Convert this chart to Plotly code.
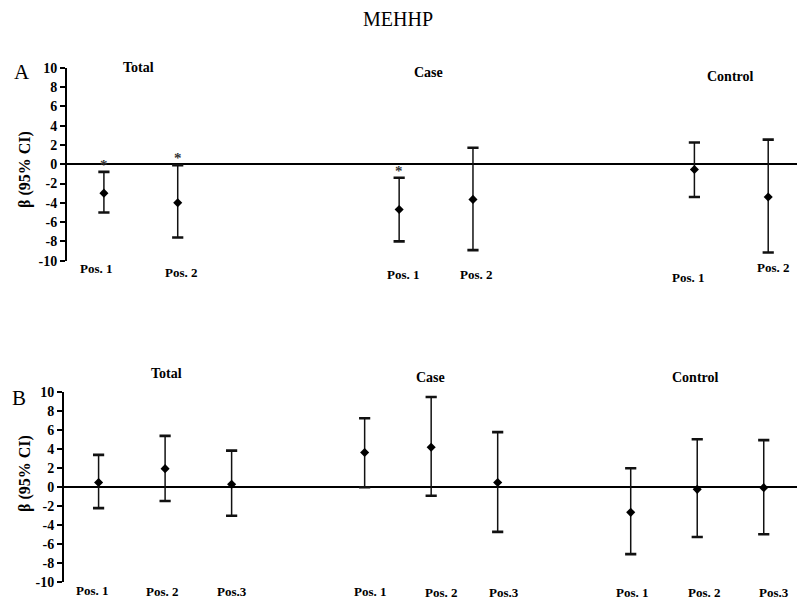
import plotly.graph_objects as go

# ---------------- data ----------------
groups = ["Total", "Case", "Control"]

# Panel A (two positions per group)
A_pos_labels = ["Pos. 1", "Pos. 2"]
A_beta  = [-3.0, -4.0, -4.7, -3.65, -0.55, -3.4]
A_upper = [-0.8, -0.1, -1.4, 1.7, 2.25, 2.55]
A_lower = [-5.0, -7.6, -8.0, -8.9, -3.4, -9.15]
A_signif = [True, True, True, False, False, False]

# Panel B (three positions per group)
B_pos_labels = ["Pos. 1", "Pos. 2", "Pos.3"]
B_beta  = [0.45, 1.9, 0.25, 3.6, 4.15, 0.45, -2.7, -0.28, -0.1]
B_upper = [3.35, 5.35, 3.8, 7.2, 9.45, 5.75, 1.95, 5.0, 4.9]
B_lower = [-2.25, -1.5, -3.05, -0.05, -0.95, -4.75, -7.1, -5.3, -5.0]

y_ticks = list(range(-10, 11, 2))

FONT = "Liberation Serif"
W, H = 797, 600


def px_x(p):
    return p / W


def px_y(p):
    return 1 - p / H


def positions(n_per_group):
    xs = []
    for g in range(len(groups)):
        for p in range(n_per_group):
            xs.append(g * 4 + p + 1)
    return xs


fig = go.Figure()


def add_panel(xs, beta, upper, lower, xaxis, yaxis):
    # whiskers
    fig.add_trace(go.Scatter(
        x=xs, y=beta, mode="markers",
        marker=dict(symbol="diamond", size=7, color="black"),
        error_y=dict(type="data", symmetric=False,
                     array=[u - b for u, b in zip(upper, beta)],
                     arrayminus=[b - l for l, b in zip(lower, beta)],
                     color="#111111", thickness=1.5, width=0),
        xaxis=xaxis, yaxis=yaxis, showlegend=False, hoverinfo="skip"))
    # thick caps at CI ends
    fig.add_trace(go.Scatter(
        x=xs + xs, y=upper + lower, mode="markers",
        marker=dict(symbol="line-ew", size=8, line=dict(color="#111111", width=2.6)),
        xaxis=xaxis, yaxis=yaxis, showlegend=False, hoverinfo="skip"))


A_x = positions(len(A_pos_labels))
B_x = positions(len(B_pos_labels))
add_panel(A_x, A_beta, A_upper, A_lower, "x", "y")
add_panel(B_x, B_beta, B_upper, B_lower, "x2", "y2")

annotations = []


def ann(**kw):
    base = dict(showarrow=False, xanchor="center", yanchor="middle")
    base.update(kw)
    annotations.append(base)


# title
ann(text="MEHHP", x=px_x(398), y=px_y(19), xref="paper", yref="paper",
    font=dict(family=FONT, size=20, color="black"))
# panel letters
ann(text="A", x=px_x(22), y=px_y(72), xref="paper", yref="paper",
    font=dict(family=FONT, size=21, color="black"))
ann(text="B", x=px_x(19), y=px_y(398), xref="paper", yref="paper",
    font=dict(family=FONT, size=21, color="black"))
# y-axis titles
for yc in (170, 474):
    ann(text="<b>β (95% CI)</b>", x=px_x(25), y=px_y(yc), xref="paper", yref="paper",
        textangle=-90, font=dict(family=FONT, size=16, color="black"))

# group titles
A_title_px = [(138, 68), (429, 72), (730, 76)]
B_title_px = [(166, 373), (430, 377), (695, 377)]
for g, (xx, yy) in zip(groups, A_title_px):
    ann(text=f"<b>{g}</b>", x=px_x(xx), y=px_y(yy), xref="paper", yref="paper",
        font=dict(family=FONT, size=14, color="black"))
for g, (xx, yy) in zip(groups, B_title_px):
    ann(text=f"<b>{g}</b>", x=px_x(xx), y=px_y(yy), xref="paper", yref="paper",
        font=dict(family=FONT, size=14, color="black"))

# position labels (with small hand-placed offsets as in the original)
A_lab_dx = [-7, 4, 4, 4, -6, 5]
A_lab_y = [269, 272, 274, 275, 277.5, 267.5]
B_lab_dx = [-6, -3, 0, 6, 10, 6, 2, 7, 10]
B_lab_y = [590.5, 591, 591.5, 591.2, 592, 592, 592, 592.3, 592]

for i, xv in enumerate(A_x):
    ann(text=f"<b>{A_pos_labels[i % len(A_pos_labels)]}</b>", x=xv, xref="x",
        y=px_y(A_lab_y[i]), yref="paper", xshift=A_lab_dx[i],
        font=dict(family=FONT, size=13, color="black"))
for i, xv in enumerate(B_x):
    ann(text=f"<b>{B_pos_labels[i % len(B_pos_labels)]}</b>", x=xv, xref="x2",
        y=px_y(B_lab_y[i]), yref="paper", xshift=B_lab_dx[i],
        font=dict(family=FONT, size=13, color="black"))

# significance asterisks
for xv, u, s in zip(A_x, A_upper, A_signif):
    if s:
        ann(text="<b>*</b>", x=xv, y=u, xref="x", yref="y", yshift=7,
            font=dict(family=FONT, size=15, color="#333333"))

yaxis_common = dict(range=[-10, 10], tickvals=y_ticks, ticktext=[f"<b>{v}</b>" for v in y_ticks],
                    showgrid=False, showline=True, linecolor="black", linewidth=2,
                    ticks="outside", ticklen=5, tickwidth=2, tickcolor="black",
                    zeroline=True, zerolinecolor="black", zerolinewidth=2,
                    tickfont=dict(family=FONT, size=14, color="black"), automargin=False)
xaxis_common = dict(showgrid=False, showline=False, zeroline=False, showticklabels=False,
                    ticks="", automargin=False)

fig.update_layout(
    width=W, height=H,
    margin=dict(l=0, r=0, t=0, b=0, autoexpand=False),
    paper_bgcolor="white", plot_bgcolor="white",
    xaxis=dict(domain=[px_x(67), 1], range=[0.5, 10.39], anchor="y", **xaxis_common),
    yaxis=dict(domain=[px_y(260.7), px_y(67.7)], anchor="x", **yaxis_common),
    xaxis2=dict(domain=[px_x(64), 1], range=[0.48, 11.5], anchor="y2", **xaxis_common),
    yaxis2=dict(domain=[px_y(581.7), px_y(391.7)], anchor="x2", **yaxis_common),
    annotations=annotations,
    showlegend=False,
)

fig.write_html("out.html", config={"displayModeBar": False},
               post_script="document.body.style.margin='0';")
